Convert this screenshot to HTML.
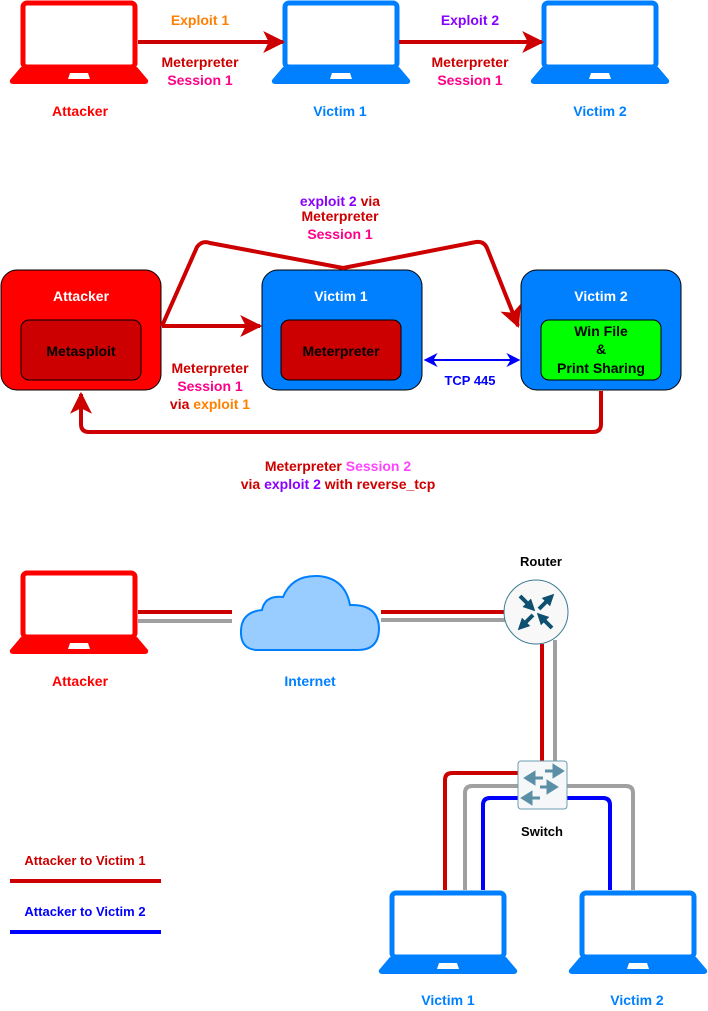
<!DOCTYPE html>
<html><head><meta charset="utf-8"><style>
body{margin:0;background:#fff}
svg{display:block;font-family:"Liberation Sans",Arial,sans-serif;font-weight:bold}
</style></head><body>
<svg width="708" height="1011" viewBox="0 0 708 1011" xmlns="http://www.w3.org/2000/svg">
<defs>
<g id="lap">
<rect x="13" y="2" width="112" height="64" rx="4" fill="#fff" stroke="currentColor" stroke-width="5"/>
<path d="M11,66 L127,66 L138,79 Q139,83 134,83 L4,83 Q-1,83 0,79 Z" fill="currentColor"/>
<path d="M60,72 L78,72 L80,78 L58,78 Z" fill="#fff"/>
</g>
<marker id="ar" viewBox="0 0 10 10" refX="9" refY="5" markerWidth="5.5" markerHeight="5.5" orient="auto"><path d="M0,0 L10,5 L0,10 L2.5,5 Z" fill="#c00"/></marker>
<marker id="ab" viewBox="0 0 10 10" refX="9" refY="5" markerWidth="7" markerHeight="7" orient="auto-start-reverse"><path d="M0,0 L10,5 L0,10 L3,5 Z" fill="#00f"/></marker>
<marker id="rt" viewBox="0 0 10 10" refX="5" refY="5" markerWidth="3" markerHeight="3" orient="auto"><path d="M0,0 L10,5 L0,10 Z" fill="#0d5070"/></marker>
</defs>
<g font-size="14" text-anchor="middle">
<!-- top row -->
<use href="#lap" x="10" y="1" style="color:#f00"/>
<use href="#lap" x="272" y="1" style="color:#0080ff"/>
<use href="#lap" x="531" y="1" style="color:#0080ff"/>
<line x1="138" y1="42" x2="283" y2="42" stroke="#c00" stroke-width="4" marker-end="url(#ar)"/>
<line x1="399" y1="42" x2="542" y2="42" stroke="#c00" stroke-width="4" marker-end="url(#ar)"/>
<text x="200" y="25" fill="#ff8000">Exploit 1</text>
<text x="200" y="67" fill="#c00">Meterpreter</text>
<text x="200" y="85" fill="#f08">Session 1</text>
<text x="470" y="25" fill="#80f">Exploit 2</text>
<text x="470" y="67" fill="#c00">Meterpreter</text>
<text x="470" y="85" fill="#f08">Session 1</text>
<text x="80" y="116" fill="#f00">Attacker</text>
<text x="340" y="116" fill="#0080ff">Victim 1</text>
<text x="600" y="116" fill="#0080ff">Victim 2</text>

<!-- middle -->
<rect x="1" y="270" width="160" height="120" rx="16" fill="#f00" stroke="#000"/>
<rect x="21" y="320" width="120" height="60" rx="8" fill="#c00" stroke="#000"/>
<rect x="262" y="270" width="160" height="120" rx="16" fill="#007fff" stroke="#000"/>
<rect x="281" y="320" width="120" height="60" rx="8" fill="#c00" stroke="#000"/>
<rect x="521" y="270" width="160" height="120" rx="16" fill="#007fff" stroke="#000"/>
<rect x="541" y="320" width="120" height="60" rx="8" fill="#0f0" stroke="#000"/>
<text x="81" y="301" fill="#fff">Attacker</text>
<text x="81" y="356" fill="#000">Metasploit</text>
<text x="341" y="301" fill="#fff">Victim 1</text>
<text x="341" y="356" fill="#000">Meterpreter</text>
<text x="601" y="301" fill="#fff">Victim 2</text>
<text x="601" y="336" fill="#000">Win File</text>
<text x="601" y="354" fill="#000">&amp;</text>
<text x="601" y="373" fill="#000">Print Sharing</text>
<line x1="162" y1="326" x2="260" y2="326" stroke="#c00" stroke-width="4" marker-end="url(#ar)"/>
<path d="M162,326 L197,247 Q202,240 210,243 L343,268 L476,242 Q484,241 487,248 L518,326" fill="none" stroke="#c00" stroke-width="4" stroke-linejoin="round" marker-end="url(#ar)"/>
<line x1="425" y1="360" x2="519" y2="360" stroke="#00f" stroke-width="2" marker-start="url(#ab)" marker-end="url(#ab)"/>
<path d="M601,391 L601,424 Q601,432 593,432 L89,432 Q81,432 81,424 L81,394" fill="none" stroke="#c00" stroke-width="4" marker-end="url(#ar)"/>
<text x="340" y="206" fill="#80f">exploit 2 <tspan fill="#c00">via</tspan></text>
<text x="340" y="221" fill="#c00">Meterpreter</text>
<text x="340" y="239" fill="#f08">Session 1</text>
<text x="210" y="373" fill="#c00">Meterpreter</text>
<text x="210" y="391" fill="#f08">Session 1</text>
<text x="210" y="409" fill="#c00">via <tspan fill="#ff8000">exploit 1</tspan></text>
<text x="470" y="385" fill="#00f" font-size="13">TCP 445</text>
<text x="338" y="471" fill="#c00">Meterpreter <tspan fill="#f4f">Session 2</tspan></text>
<text x="338" y="489" fill="#c00">via <tspan fill="#80f">exploit 2</tspan> with reverse_tcp</text>

<!-- bottom -->
<use href="#lap" x="10" y="571" style="color:#f00"/>
<line x1="138" y1="612" x2="232" y2="612" stroke="#c00" stroke-width="4"/>
<line x1="138" y1="621" x2="232" y2="621" stroke="#a0a0a0" stroke-width="4"/>
<path d="M258,650 Q240,650 241,630 Q242,612 262,610 Q265,595 283,597 Q292,575 318,576 Q345,578 350,605 Q378,604 379,628 Q379,650 358,650 Z" fill="#99ccff" stroke="#0080ff" stroke-width="2"/>
<text x="310" y="686" fill="#0080ff">Internet</text>
<text x="80" y="686" fill="#f00">Attacker</text>
<line x1="381" y1="612" x2="506" y2="612" stroke="#c00" stroke-width="4"/>
<line x1="381" y1="620" x2="506" y2="620" stroke="#a0a0a0" stroke-width="4"/>
<line x1="542" y1="644" x2="542" y2="762" stroke="#c00" stroke-width="4"/>
<line x1="555" y1="640" x2="555" y2="762" stroke="#a0a0a0" stroke-width="4"/>
<circle cx="536" cy="612" r="32" fill="#f8f8f8" stroke="#3b7a94" stroke-width="1"/>
<g stroke="#0d5070" stroke-width="4">
<line x1="520" y1="596" x2="531" y2="607" marker-end="url(#rt)"/>
<line x1="539" y1="609" x2="550" y2="598" marker-end="url(#rt)"/>
<line x1="533" y1="615" x2="522" y2="626" marker-end="url(#rt)"/>
<line x1="552" y1="628" x2="541" y2="617" marker-end="url(#rt)"/>
</g>
<text x="541" y="566" fill="#000" font-size="13">Router</text>
<path d="M518,773 L452,773 Q445,773 445,780 L445,890" fill="none" stroke="#c00" stroke-width="4"/>
<path d="M518,786 L472,786 Q465,786 465,793 L465,890" fill="none" stroke="#a0a0a0" stroke-width="4"/>
<path d="M518,798 L490,798 Q483,798 483,805 L483,890" fill="none" stroke="#00f" stroke-width="4"/>
<path d="M566,786 L626,786 Q633,786 633,793 L633,890" fill="none" stroke="#a0a0a0" stroke-width="4"/>
<path d="M566,798 L603,798 Q610,798 610,805 L610,890" fill="none" stroke="#00f" stroke-width="4"/>
<rect x="518" y="761" width="49" height="48" rx="3" fill="#f5f7f8" stroke="#6d9cb0" stroke-width="1"/>
<g fill="#5b8fa6" stroke="#5b8fa6" stroke-width="3">
<line x1="545" y1="771" x2="555" y2="771"/><path d="M554,766 L562,771 L554,776 Z"/>
<line x1="533" y1="778" x2="543" y2="778"/><path d="M534,773 L526,778 L534,783 Z"/>
<line x1="540" y1="787" x2="549" y2="787"/><path d="M548,782 L556,787 L548,792 Z"/>
<line x1="530" y1="798" x2="540" y2="798"/><path d="M531,793 L523,798 L531,803 Z"/>
</g>
<text x="542" y="836" fill="#000" font-size="13">Switch</text>
<use href="#lap" x="379" y="891" style="color:#0080ff"/>
<use href="#lap" x="569" y="891" style="color:#0080ff"/>
<text x="448" y="1005" fill="#0080ff">Victim 1</text>
<text x="637" y="1005" fill="#0080ff">Victim 2</text>
<text x="85" y="865" fill="#c00" font-size="13">Attacker to Victim 1</text>
<line x1="10" y1="881" x2="161" y2="881" stroke="#c00" stroke-width="4"/>
<text x="85" y="916" fill="#00f" font-size="13">Attacker to Victim 2</text>
<line x1="10" y1="932" x2="161" y2="932" stroke="#00f" stroke-width="4"/>
</g>
</svg>
</body></html>
